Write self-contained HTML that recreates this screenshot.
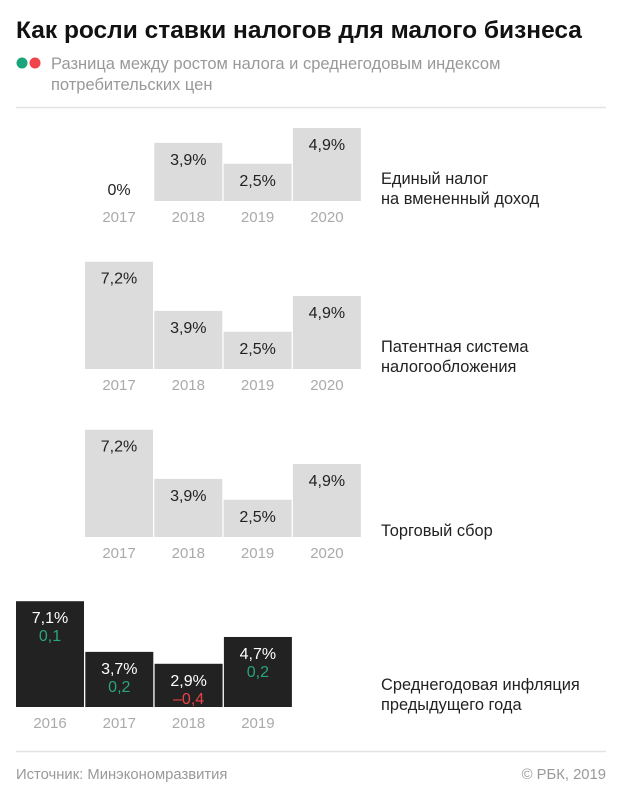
<!DOCTYPE html>
<html><head><meta charset="utf-8">
<style>
body{margin:0;background:#fff;width:620px;height:799px;overflow:hidden;font-family:"Liberation Sans",sans-serif}
svg text{font-family:"Liberation Sans",sans-serif}
</style></head>
<body>
<svg id="chart" width="620" height="799" xmlns="http://www.w3.org/2000/svg">
<text x="16" y="38" font-size="24.5" font-weight="bold" fill="#111">Как росли ставки налогов для малого бизнеса</text>
<circle cx="22" cy="63" r="5.5" fill="#1aa57a"/>
<circle cx="35" cy="63" r="5.5" fill="#f0444a"/>
<text font-size="16.5" fill="#999"><tspan x="51" y="69">Разница между ростом налога и среднегодовым индексом</tspan><tspan x="51" y="90">потребительских цен</tspan></text>
<line x1="16" y1="107.5" x2="606" y2="107.5" stroke="#e3e3e3" stroke-width="1.5"/>
<line x1="16" y1="751.5" x2="606" y2="751.5" stroke="#e3e3e3" stroke-width="1.5"/>
<text x="16" y="779" font-size="14.8" fill="#999">Источник: Минэкономразвития</text>
<text x="606" y="779" font-size="14.8" fill="#999" text-anchor="end">© РБК, 2019</text>
<g id="plots"></g>
</svg>
<script>
const taxYears = ['2017','2018','2019','2020'];
const envdValues = [0, 3.9, 2.5, 4.9];
const patentValues = [7.2, 3.9, 2.5, 4.9];
const tradeValues = [7.2, 3.9, 2.5, 4.9];
const inflYears = ['2016','2017','2018','2019'];
const inflValues = [7.1, 3.7, 2.9, 4.7];
const diffValues = [0.1, 0.2, -0.4, 0.2];
const groupTitles = [['Единый налог','на вмененный доход'],['Патентная система','налогообложения'],['Торговый сбор'],['Среднегодовая инфляция','предыдущего года']];

const NS='http://www.w3.org/2000/svg';
const plots=document.getElementById('plots');
const PX=14.9, BW=68, PITCH=69.3;
function yScale(base,v){return base - v*PX;}
function xScale(x0,i){return x0 + i*PITCH;}
function mk(tag,attrs,text){const e=document.createElementNS(NS,tag);for(const k in attrs)e.setAttribute(k,attrs[k]);if(text!==undefined)e.textContent=text;plots.appendChild(e);return e;}
function fmt(v){return String(v).replace('.',',').replace('-','–');}

function drawGroup(gi,years,values,base,x0,dark,diffs){
  values.forEach((v,i)=>{
    const x=xScale(x0,i), top=yScale(base,v);
    if(v>0){
      const r=mk('rect',{x:x,y:top,width:BW,height:base-top,fill:dark?'#222':'#dcdcdc'});
      
      
    }
    const ly = v>0 ? top+22 : base-6;
    const t=mk('text',{x:x+BW/2,y:ly,'font-size':16,'text-anchor':'middle',fill:dark?'#fff':'#222'},fmt(v)+'%');
    
    
    if(diffs){
      const d=diffs[i];
      const dt=mk('text',{x:x+BW/2,y:top+40,'font-size':16,'text-anchor':'middle',fill:d<0?'#e8434a':'#2aa57a'},fmt(d));
      
      
    }
    const yt=mk('text',{x:x+BW/2,y:base+21,'font-size':15,'text-anchor':'middle',fill:'#aaa'},years[i]);
    
    
  });
  const lines=groupTitles[gi];
  const cy = lines.length===1 ? base-1 : base-17;
  lines.forEach((s,k)=>{
    const gt=mk('text',{x:381,y:cy+k*20,'font-size':16.4,fill:'#222'},s);
    
    
  });
}
drawGroup(0,taxYears,envdValues,201,85,false);
drawGroup(1,taxYears,patentValues,369,85,false);
drawGroup(2,taxYears,tradeValues,537,85,false);
drawGroup(3,inflYears,inflValues,707,16,true,diffValues);
</script>
</body></html>
